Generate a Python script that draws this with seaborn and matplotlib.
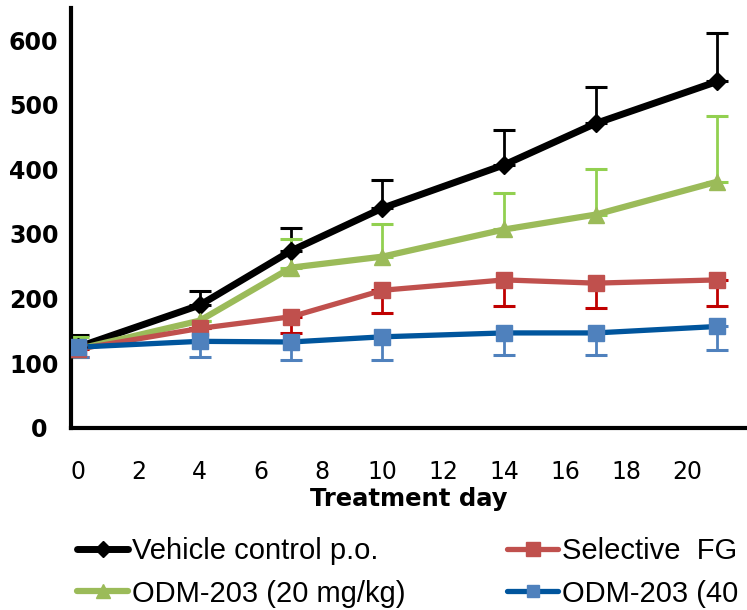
import numpy as np
import pandas as pd
import matplotlib
matplotlib.use("Agg")
import matplotlib.pyplot as plt
import seaborn as sns

# Dados
days = [0, 4, 7, 10, 14, 17, 21]

vehicle = [125, 190, 274, 340, 407, 471, 536]
vehicle_err = [19, 22, 35, 43, 54, 56, 75]

odm20 = [122, 166, 248, 265, 307, 330, 381]
odm20_err = [19, 0, 45, 51, 57, 70, 102]

selective = [122, 154, 172, 213, 229, 224, 229]
selective_err = [12, 0, 25, 35, 40, 39, 40]

odm40 = [125, 134, 133, 141, 147, 147, 157]
odm40_err = [15, 24, 28, 36, 34, 34, 36]

series_names = ["Vehicle control p.o.", "ODM-203 (20 mg/kg)", "Selective  FG", "ODM-203 (40"]
y_ticks = [0, 100, 200, 300, 400, 500, 600]
x_ticks = [0, 2, 4, 6, 8, 10, 12, 14, 16, 18, 20]

sns.set_style("white")
plt.rcParams['font.family'] = ['DejaVu Sans']
plt.rcParams['text.color'] = 'black'
plt.rcParams['axes.labelcolor'] = 'black'
plt.rcParams['xtick.color'] = 'black'
plt.rcParams['ytick.color'] = 'black'

fig = plt.figure(figsize=(7.47, 6.10), dpi=100)
ax = fig.add_axes([0.095, 0.2984, 0.905, 0.689])

estilos = [
    # valores, erro, lado do erro, cor linha, cor marcador, cor erro, marcador, tamanho, espessura
    (vehicle, vehicle_err, 'up', 'black', 'black', 'black', 'D', 9, 5),
    (odm20, odm20_err, 'up', '#9BBB59', '#9BBB59', '#92D050', '^', 12, 4.5),
    (selective, selective_err, 'down', '#C0504D', '#C0504D', '#C00000', 's', 11.5, 3.8),
    (odm40, odm40_err, 'down', '#00559D', '#4F81BD', '#4F81BD', 's', 11, 3.8),
]

# barras de erro primeiro (atrás das linhas)
for vals, err, lado, cl, cm, ce, mk, ms, lw in estilos:
    zeros = [0] * len(err)
    yerr = [zeros, err] if lado == 'up' else [err, zeros]
    ax.errorbar(days, vals, yerr=yerr, fmt='none', ecolor=ce, elinewidth=2,
                capsize=8, capthick=2.2, zorder=2)

handles = []
for (vals, err, lado, cl, cm, ce, mk, ms, lw), nome in zip(estilos, series_names):
    df = pd.DataFrame({'day': days, 'value': vals})
    sns.lineplot(data=df, x='day', y='value', ax=ax, color=cl, lw=lw, zorder=3, legend=False)
    ax.plot(days, vals, linestyle='none', marker=mk, markersize=ms,
            markerfacecolor=cm, markeredgecolor=cm, zorder=4)
    h, = ax.plot([], [], color=cl, lw=lw, marker=mk, markersize=ms * 0.85,
                 markerfacecolor=cm, markeredgecolor=cm)
    handles.append(h)

ax.set_xlim(-0.23, 21.97)
ax.set_ylim(0, 650)
ax.set_xticks(x_ticks)
ax.set_yticks(y_ticks)

for s in ['top', 'right']:
    ax.spines[s].set_visible(False)
for s in ['left', 'bottom']:
    ax.spines[s].set_linewidth(3)
    ax.spines[s].set_color('black')

ax.tick_params(axis='y', direction='out', length=8, width=2.2, pad=1)
ax.tick_params(axis='x', direction='out', length=7, width=2.2, pad=16)
ax.set_yticklabels([str(v) for v in y_ticks], fontsize=17, fontweight='bold')
ax.set_xticklabels([str(v) for v in x_ticks], fontsize=17)
# o tique do zero é mais comprido (prolongamento do eixo x)
tick0 = ax.yaxis.get_major_ticks()[0]
tick0.tick1line.set_markersize(16)
tick0.set_pad(9)

ax.set_xlabel('Treatment day', fontsize=17.5, fontweight='bold', labelpad=2)
ax.set_ylabel('')

# legenda em duas colunas, cada uma ancorada na posição do original
leg_kw = dict(loc='upper left', frameon=False, handlelength=1.75, handletextpad=0.12,
              labelspacing=0.5, borderpad=0, borderaxespad=0,
              prop={'family': 'Liberation Sans', 'size': 21})
leg1 = fig.legend(handles=handles[:2], labels=series_names[:2],
                  bbox_to_anchor=(77 / 747, 1 - 537 / 610), **leg_kw)
leg2 = fig.legend(handles=handles[2:], labels=series_names[2:],
                  bbox_to_anchor=(507 / 747, 1 - 537 / 610), **leg_kw)

fig.savefig('out.png', dpi=100)
